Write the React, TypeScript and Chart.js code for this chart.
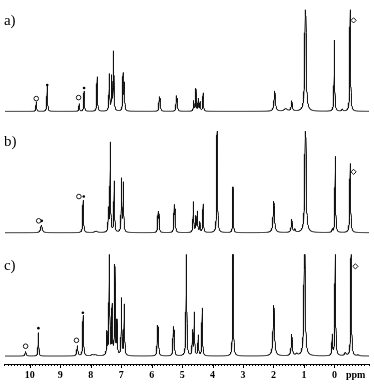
import React, { useEffect, useRef } from "react";
import { Chart, registerables } from "chart.js";

Chart.register(...registerables);

// ---- data ----
// peaks: [chemical shift (ppm), intensity (100 = full panel height), half-width (ppm)]
const PEAKS_A: [number, number, number][] = [
  [9.79, 9.5, 0.012], [9.43, 25, 0.012], [8.38, 7.5, 0.012], [8.22, 20, 0.012],
  [7.79, 34, 0.012], [7.39, 36, 0.012], [7.31, 33, 0.012], [7.25, 58, 0.012],
  [6.94, 36, 0.012], [6.9, 26, 0.012], [5.75, 13, 0.012], [5.72, 11, 0.012],
  [5.19, 14, 0.012], [5.16, 11, 0.012], [4.62, 10, 0.012], [4.55, 22, 0.012],
  [4.47, 12, 0.012], [4.41, 9, 0.012], [4.31, 18, 0.012], [1.96, 20, 0.025],
  [1.6, 2.5, 0.06], [1.4, 10, 0.02], [0.95, 140, 0.02], [0.0, 70, 0.012],
  [-0.26, 2, 0.02], [-0.52, 120, 0.012],
];
const PEAKS_B: [number, number, number][] = [
  [9.62, 7.5, 0.03], [8.25, 32, 0.014], [7.83, 1.5, 0.05], [7.42, 22, 0.012],
  [7.36, 88, 0.012], [7.23, 50, 0.012], [6.99, 52, 0.012], [6.93, 48, 0.012],
  [5.79, 19, 0.012], [5.76, 16, 0.012], [5.26, 25, 0.012], [5.23, 20, 0.012],
  [4.63, 30, 0.012], [4.55, 15, 0.012], [4.5, 20, 0.012], [4.42, 10, 0.012],
  [4.31, 28, 0.012], [3.85, 120, 0.012], [3.33, 45, 0.01], [1.99, 31, 0.025],
  [1.4, 13, 0.02], [1.3, 3, 0.02], [0.95, 140, 0.02], [0.07, 3, 0.012],
  [-0.03, 75, 0.012], [-0.52, 68, 0.015],
];
const PEAKS_C: [number, number, number][] = [
  [10.14, 4.5, 0.02], [9.72, 23, 0.012], [8.44, 10, 0.02], [8.25, 40, 0.014],
  [7.95, 1.2, 0.04], [7.85, 1.2, 0.04], [7.47, 22, 0.012], [7.39, 120, 0.012],
  [7.3, 48, 0.012], [7.21, 88, 0.012], [7.14, 33, 0.012], [6.99, 56, 0.012],
  [6.9, 50, 0.012], [5.81, 27, 0.012], [5.78, 25, 0.012], [5.29, 26, 0.012],
  [5.26, 22, 0.012], [4.86, 120, 0.012], [4.66, 24, 0.012], [4.6, 42, 0.012],
  [4.47, 20, 0.012], [4.34, 47, 0.012], [3.33, 120, 0.012], [1.99, 50, 0.025],
  [1.4, 21, 0.02], [1.24, 2, 0.03], [0.98, 140, 0.02], [0.07, 20, 0.012],
  [-0.03, 120, 0.012], [-0.36, 3, 0.03], [-0.55, 120, 0.012], [-0.78, 1, 0.03],
];

// markers: [ppm, height above panel baseline, kind]
const MARKERS_A: [number, number, string][] = [
  [9.79, 12.6, "open"], [9.43, 26, "dot"], [8.4, 13.6, "open"], [8.22, 23, "dot"],
  [-0.63, 89.6, "diamond"],
];
const MARKERS_B: [number, number, string][] = [
  [9.71, 11.7, "open"], [9.61, 11.7, "dot"], [8.39, 35.6, "open"], [8.23, 35.6, "dot"],
  [-0.63, 59.9, "diamond"],
];
const MARKERS_C: [number, number, string][] = [
  [10.14, 9.7, "open"], [9.72, 27.5, "dot"], [8.47, 15.5, "open"], [8.26, 42.7, "dot"],
  [-0.69, 88.3, "diamond"],
];

const PANEL_LABELS = ["a)", "b)", "c)"];
const MAJOR_TICKS = [10, 9, 8, 7, 6, 5, 4, 3, 2, 1, 0];
const UNIT_LABEL = "ppm";
const UNIT_LABEL_AT = -0.7;

// ---- layout ----
const X_MIN = -1.14;
const X_MAX = 10.82;
const Y_MIN = -7.8;
const Y_MAX = 345.6;
const PANEL_OFFSETS = [240.8, 121.4, 0];
const LABEL_HEIGHT = 89;
const CLIP = 100;
const STEP = 0.004;

function spectrum(peaks: [number, number, number][], offset: number) {
  const xs: number[] = [];
  for (let v = X_MIN; v <= X_MAX + 1e-9; v += STEP) xs.push(v);
  peaks.forEach((p) => xs.push(p[0]));
  xs.sort((a, b) => a - b);
  return xs.map((x) => {
    let s = 0;
    for (const [c, h, w] of peaks) s += (h * w * w) / ((x - c) * (x - c) + w * w);
    return { x, y: Math.min(CLIP, s) + offset };
  });
}

function markerSets(markers: [number, number, string][], offset: number) {
  return markers.map(([x, h, kind]) => ({ x, y: h + offset, kind }));
}

const decorPlugin = {
  id: "decor",
  afterDraw(chart: any) {
    const { ctx } = chart;
    const xs = chart.scales.x;
    const ys = chart.scales.y;
    ctx.save();
    ctx.strokeStyle = "#000";
    ctx.lineWidth = 1;
    for (const v of MAJOR_TICKS) {
      const px = Math.round(xs.getPixelForValue(v)) + 0.5;
      ctx.beginPath();
      ctx.moveTo(px, xs.top);
      ctx.lineTo(px, xs.top + 4);
      ctx.stroke();
    }
    ctx.fillStyle = "#000";
    ctx.font = '15px "Liberation Serif"';
    ctx.textBaseline = "middle";
    ctx.textAlign = "left";
    PANEL_LABELS.forEach((t, i) => {
      ctx.fillText(t, chart.chartArea.left - 1, ys.getPixelForValue(PANEL_OFFSETS[i] + LABEL_HEIGHT));
    });
    ctx.restore();
  },
};

export default function App() {
  const ref = useRef<HTMLCanvasElement | null>(null);
  useEffect(() => {
    if (!ref.current) return;
    const allPeaks = [PEAKS_A, PEAKS_B, PEAKS_C];
    const allMarkers = [MARKERS_A, MARKERS_B, MARKERS_C];
    const lineSets = allPeaks.map((p, i) => ({
      type: "line",
      data: spectrum(p, PANEL_OFFSETS[i]),
      borderColor: "#111",
      borderWidth: 1,
      pointRadius: 0,
      fill: false,
      tension: 0,
      parsing: false,
      order: 2,
    }));
    const marks = allMarkers.flatMap((m, i) => markerSets(m, PANEL_OFFSETS[i]));
    const kinds: Record<string, any> = {
      open: { pointStyle: "circle", pointRadius: 2.3, backgroundColor: "#fff", borderColor: "#000", borderWidth: 0.9 },
      dot: { pointStyle: "circle", pointRadius: 1.3, backgroundColor: "#000", borderColor: "#000", borderWidth: 0 },
      diamond: { pointStyle: "rectRot", pointRadius: 2.6, backgroundColor: "#fff", borderColor: "#000", borderWidth: 0.9 },
    };
    const markSets = Object.keys(kinds).map((k) => ({
      type: "scatter",
      data: marks.filter((m) => m.kind === k).map((m) => ({ x: m.x, y: m.y })),
      showLine: false,
      order: 1,
      ...kinds[k],
    }));
    const chart = new Chart(ref.current, {
      type: "line",
      data: { datasets: [...lineSets, ...markSets] as any },
      options: {
        animation: false,
        responsive: false,
        devicePixelRatio: 1,
        layout: { padding: { left: 3, right: 4, top: 0, bottom: 0 } },
        plugins: { legend: { display: false }, tooltip: { enabled: false } },
        events: [],
        scales: {
          x: {
            type: "linear",
            reverse: true,
            min: X_MIN,
            max: X_MAX,
            afterFit: (s: any) => {
              s.height = 21;
            },
            grid: { display: true, drawOnChartArea: false, drawTicks: true, tickLength: 2, tickColor: "#000", color: "#000" },
            border: { display: true, color: "#000", width: 1 },
            ticks: {
              stepSize: 0.1,
              autoSkip: false,
              maxRotation: 0,
              minRotation: 0,
              padding: 3,
              color: "#000",
              font: { family: "Liberation Serif", size: 10, weight: "bold" },
              callback: (v: any) => {
                const n = Number(v);
                if (Math.abs(n - UNIT_LABEL_AT) < 1e-6) return UNIT_LABEL;
                const r = Math.round(n);
                if (Math.abs(n - r) < 1e-6 && MAJOR_TICKS.includes(r)) return String(r);
                return "";
              },
            },
          },
          y: { type: "linear", display: false, min: Y_MIN, max: Y_MAX },
        },
      } as any,
      plugins: [decorPlugin],
    });
    return () => chart.destroy();
  }, []);
  return (
    <div style={{ position: "fixed", left: 0, top: 0, width: 374, height: 385, background: "#fff" }}>
      <canvas ref={ref} width={374} height={385} style={{ display: "block" }} />
    </div>
  );
}
